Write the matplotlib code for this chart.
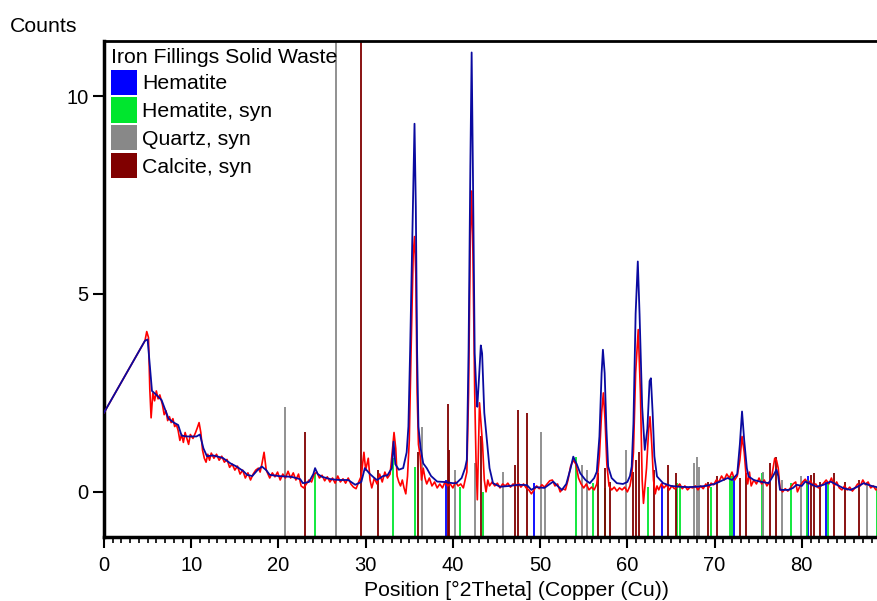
import numpy as np
import matplotlib
matplotlib.use('Agg')
import matplotlib.pyplot as plt
from matplotlib.patches import Patch
from matplotlib.ticker import MultipleLocator

plt.rcParams['font.family'] = ['Liberation Sans', 'DejaVu Sans']

observed = [
    (0.0, 2.0), (4.7, 3.82), (4.9, 4.05), (5.1, 3.9), (5.25, 2.6), (5.4, 1.87), (5.6, 2.5), (5.8, 2.3),
    (6.0, 2.55), (6.2, 2.35), (6.4, 2.45), (6.7, 2.2), (6.9, 1.95), (7.1, 2.05), (7.3, 1.8), (7.5, 1.9),
    (7.7, 1.75), (7.9, 1.85), (8.1, 1.65), (8.3, 1.7), (8.5, 1.55), (8.7, 1.3), (8.9, 1.45), (9.1, 1.25),
    (9.3, 1.5), (9.5, 1.35), (9.7, 1.2), (9.9, 1.45), (10.2, 1.35), (10.5, 1.5), (10.7, 1.62), (10.9, 1.75),
    (11.1, 1.5), (11.3, 1.05), (11.5, 0.85), (11.7, 0.75), (11.9, 0.95), (12.1, 0.8), (12.3, 0.98), (12.6, 0.85),
    (12.9, 0.95), (13.2, 0.8), (13.5, 0.9), (13.8, 0.75), (14.1, 0.82), (14.4, 0.62), (14.7, 0.7), (15.0, 0.55),
    (15.3, 0.65), (15.6, 0.45), (15.9, 0.55), (16.2, 0.35), (16.5, 0.48), (16.8, 0.3), (17.1, 0.45), (17.4, 0.55),
    (17.7, 0.6), (17.9, 0.5), (18.1, 0.7), (18.35, 1.0), (18.6, 0.55), (18.8, 0.45), (19.0, 0.35), (19.3, 0.48),
    (19.6, 0.38), (19.9, 0.5), (20.2, 0.3), (20.5, 0.45), (20.8, 0.35), (21.1, 0.52), (21.4, 0.35), (21.7, 0.48),
    (22.0, 0.3), (22.3, 0.45), (22.6, 0.15), (22.9, 0.1), (23.2, 0.2), (23.5, 0.3), (23.8, 0.25), (24.1, 0.45),
    (24.4, 0.5), (24.7, 0.35), (25.0, 0.42), (25.3, 0.28), (25.6, 0.38), (25.9, 0.25), (26.2, 0.35), (26.5, 0.22),
    (26.8, 0.4), (27.1, 0.25), (27.4, 0.33), (27.7, 0.22), (28.0, 0.35), (28.3, 0.2), (28.6, 0.12), (28.9, 0.08),
    (29.2, 0.25), (29.5, 0.4), (29.8, 1.0), (30.0, 0.55), (30.3, 0.85), (30.5, 0.3), (30.7, 0.1), (31.0, 0.35),
    (31.3, 0.2), (31.6, 0.45), (31.9, 0.25), (32.2, 0.5), (32.5, 0.35), (32.8, 0.45), (33.0, 0.9), (33.25, 1.5),
    (33.45, 1.1), (33.6, 0.4), (33.8, 0.25), (34.0, 0.15), (34.2, 0.3), (34.4, 0.1), (34.6, -0.05), (34.8, 0.4),
    (35.0, 1.3), (35.2, 3.5), (35.45, 6.0), (35.6, 6.45), (35.75, 5.5), (35.9, 2.5), (36.05, 1.2), (36.25, 0.9),
    (36.4, 0.3), (36.6, 0.6), (36.8, 0.35), (37.0, 0.2), (37.3, 0.35), (37.6, 0.15), (37.9, 0.25), (38.2, 0.1),
    (38.5, 0.2), (38.8, 0.1), (39.1, 0.25), (39.4, 0.15), (39.7, 0.2), (40.0, 0.1), (40.3, 0.25), (40.6, 0.15),
    (40.9, 0.2), (41.2, 0.1), (41.4, 0.3), (41.6, 0.5), (41.8, 2.5), (42.0, 6.5), (42.15, 7.6), (42.3, 6.0),
    (42.5, 2.5), (42.65, 0.8), (42.8, -0.2), (42.95, 1.2), (43.05, 2.25), (43.2, 1.8), (43.4, 1.2), (43.6, 0.3),
    (43.8, 0.0), (44.0, 0.3), (44.2, 0.15), (44.5, 0.25), (44.8, 0.15), (45.1, 0.22), (45.4, 0.1), (45.7, 0.2),
    (46.0, 0.15), (46.3, 0.22), (46.6, 0.12), (46.9, 0.2), (47.2, 0.15), (47.5, 0.22), (47.8, 0.12), (48.1, 0.2),
    (48.4, 0.1), (48.7, 0.05), (49.0, -0.05), (49.3, 0.05), (49.6, 0.15), (49.9, 0.08), (50.2, 0.18), (50.5, 0.12),
    (50.8, 0.2), (51.1, 0.28), (51.4, 0.3), (51.7, 0.15), (52.0, 0.2), (52.3, 0.0), (52.6, 0.08), (52.9, 0.05),
    (53.2, 0.3), (53.5, 0.65), (53.8, 0.8), (54.1, 0.7), (54.4, 0.35), (54.7, 0.2), (55.0, 0.1), (55.3, 0.2),
    (55.6, 0.05), (55.9, 0.12), (56.2, 0.05), (56.5, 0.2), (56.8, 0.9), (57.05, 2.0), (57.25, 2.5), (57.45, 1.8),
    (57.65, 0.7), (57.9, 0.15), (58.2, 0.05), (58.5, 0.12), (58.8, 0.02), (59.1, 0.1), (59.4, 0.05), (59.7, 0.12),
    (60.0, 0.0), (60.3, 0.15), (60.5, 0.4), (60.7, 1.0), (60.95, 3.0), (61.25, 4.1), (61.5, 2.5), (61.7, 0.3),
    (61.85, -0.29), (62.0, 0.1), (62.2, 0.6), (62.45, 1.6), (62.6, 1.9), (62.8, 1.2), (63.0, 0.3), (63.2, -0.05),
    (63.4, 0.15), (63.6, 0.05), (63.9, 0.2), (64.2, 0.1), (64.5, 0.18), (64.8, 0.05), (65.1, 0.15), (65.4, 0.08),
    (65.7, 0.12), (66.0, 0.2), (66.3, 0.08), (66.6, 0.15), (66.9, 0.05), (67.2, 0.12), (67.5, 0.1), (67.8, 0.15),
    (68.1, 0.05), (68.4, 0.15), (68.7, 0.08), (69.0, 0.2), (69.3, 0.1), (69.6, 0.22), (69.9, 0.18), (70.2, 0.3),
    (70.5, 0.25), (70.8, 0.4), (71.1, 0.3), (71.4, 0.45), (71.7, 0.35), (72.0, 0.5), (72.3, 0.3), (72.6, 0.4),
    (72.9, 0.8), (73.15, 1.4), (73.4, 1.0), (73.6, 0.45), (73.8, 0.2), (74.0, 0.5), (74.2, 0.15), (74.5, 0.3),
    (74.8, 0.2), (75.1, 0.35), (75.4, 0.2), (75.7, 0.3), (76.0, 0.15), (76.3, 0.25), (76.6, 0.45), (76.9, 0.85),
    (77.1, 0.8), (77.3, 0.6), (77.5, 0.1), (77.8, 0.0), (78.1, 0.08), (78.4, 0.02), (78.7, 0.1), (79.0, 0.2),
    (79.3, 0.25), (79.5, 0.0), (79.8, 0.15), (80.1, 0.25), (80.4, 0.32), (80.7, 0.2), (81.0, 0.28), (81.3, 0.15),
    (81.6, 0.2), (81.9, 0.1), (82.2, 0.15), (82.5, 0.22), (82.8, 0.3), (83.1, 0.2), (83.4, 0.35), (83.7, 0.15),
    (84.0, 0.25), (84.3, 0.1), (84.6, 0.05), (84.9, 0.15), (85.2, 0.05), (85.5, 0.12), (85.8, 0.02), (86.1, 0.1),
    (86.4, 0.2), (86.7, 0.15), (87.0, 0.3), (87.3, 0.18), (87.6, 0.25), (87.9, 0.1), (88.2, 0.15), (88.5, 0.05),
    (88.8, 0.1), (89.2, 0.18),
]

# calculated profile (dark blue)
calculated = [
    (0.0, 2.0), (4.7, 3.82), (5.0, 3.85), (5.3, 3.08), (5.5, 2.55), (6.0, 2.45), (6.6, 2.32), (7.4, 1.85),
    (8.0, 1.75), (8.5, 1.69), (8.9, 1.42), (9.5, 1.4), (10.6, 1.4), (11.0, 1.45), (11.4, 1.1), (11.8, 0.9),
    (12.5, 0.92), (13.6, 0.86), (14.5, 0.72), (15.2, 0.64), (16.0, 0.52), (16.4, 0.43), (17.0, 0.4), (17.6, 0.55),
    (18.1, 0.64), (18.6, 0.55), (19.0, 0.43), (20.0, 0.4), (21.5, 0.38), (22.5, 0.32), (22.8, 0.22), (23.5, 0.25),
    (24.0, 0.45), (24.2, 0.6), (24.5, 0.45), (25.0, 0.38), (26.0, 0.32), (27.0, 0.3), (28.0, 0.3), (28.8, 0.18),
    (29.5, 0.25), (29.9, 0.6), (30.5, 0.45), (31.0, 0.35), (31.3, 0.3), (32.0, 0.4), (32.5, 0.42), (33.0, 0.6),
    (33.2, 1.27), (33.4, 0.7), (33.8, 0.56), (34.3, 0.6), (34.7, 1.0), (34.9, 1.65), (35.1, 3.6), (35.4, 7.1),
    (35.6, 9.3), (35.75, 7.2), (35.9, 3.5), (36.05, 1.65), (36.3, 1.1), (36.6, 0.72), (37.0, 0.6), (37.5, 0.4),
    (38.2, 0.26), (39.0, 0.25), (40.0, 0.22), (40.4, 0.22), (41.0, 0.35), (41.4, 0.6), (41.6, 0.81), (41.8, 3.6),
    (42.0, 8.2), (42.15, 11.1), (42.3, 8.0), (42.5, 3.5), (42.7, 2.5), (42.8, 2.15), (43.0, 2.9), (43.2, 3.7),
    (43.35, 3.5), (43.6, 2.0), (43.9, 1.31), (44.2, 0.6), (44.6, 0.22), (45.4, 0.13), (46.5, 0.15), (47.5, 0.18),
    (48.5, 0.17), (49.0, 0.05), (49.5, 0.12), (50.5, 0.1), (51.0, 0.18), (51.5, 0.26), (52.0, 0.15), (52.5, 0.05),
    (53.0, 0.2), (53.5, 0.6), (53.8, 0.89), (54.2, 0.7), (54.6, 0.47), (55.2, 0.3), (55.7, 0.22), (56.2, 0.35),
    (56.5, 0.51), (56.8, 1.4), (57.05, 3.0), (57.2, 3.59), (57.4, 3.0), (57.6, 1.6), (57.8, 0.64), (58.2, 0.35),
    (58.8, 0.22), (59.5, 0.2), (60.0, 0.25), (60.3, 0.4), (60.5, 0.64), (60.7, 1.73), (60.95, 4.5), (61.2, 5.82),
    (61.4, 4.5), (61.7, 2.15), (62.0, 1.06), (62.3, 1.6), (62.55, 2.8), (62.7, 2.87), (62.9, 2.0), (63.1, 0.9),
    (63.4, 0.39), (64.1, 0.22), (65.0, 0.15), (66.0, 0.13), (67.0, 0.12), (68.0, 0.13), (69.0, 0.15), (70.0, 0.2),
    (70.8, 0.28), (71.5, 0.35), (72.0, 0.3), (72.6, 0.45), (72.9, 1.2), (73.15, 2.03), (73.4, 1.3), (73.7, 0.6),
    (73.9, 0.39), (74.5, 0.3), (75.2, 0.26), (76.2, 0.22), (76.7, 0.4), (77.1, 0.56), (77.3, 0.4), (77.5, 0.05),
    (78.5, 0.05), (79.0, 0.1), (79.4, 0.18), (80.0, 0.15), (80.4, 0.26), (81.0, 0.2), (81.7, 0.13), (82.5, 0.18),
    (83.3, 0.26), (84.0, 0.18), (84.8, 0.09), (85.6, 0.05), (86.3, 0.12), (87.1, 0.22), (88.0, 0.15), (89.2, 0.09),
]

# reference stick patterns: positions and top of each stick
hematite_pos = [39.2, 49.35, 64.0, 72.2, 80.7, 82.8]
hematite_top = [0.3, 0.23, 0.22, 0.39, 0.39, 0.26]
hematite_syn_pos = [24.2, 33.1, 35.6, 40.8, 43.5, 54.1, 56.1, 57.45, 62.4, 65.75, 66.0, 69.6,
                    71.8, 72.0, 75.4, 75.6, 78.75, 80.6, 83.0, 88.6]
hematite_syn_top = [0.47, 0.85, 0.64, 0.13, 0.0, 0.89, 0.22, 0.1, 0.13, 0.22, 0.2, 0.13,
                    0.39, 0.39, 0.47, 0.47, 0.22, 0.3, 0.26, 0.13]
quartz_pos = [20.8, 26.65, 36.5, 40.25, 42.5, 45.8, 50.1, 50.6, 54.8, 55.35, 59.9, 67.7, 68.0,
              68.2, 75.5, 77.7, 79.9, 87.5]
quartz_top = [2.15, 12.0, 1.65, 0.56, 0.73, 0.51, 1.52, 0.13, 0.68, 0.56, 1.06, 0.72, 0.89,
              0.64, 0.51, 0.3, 0.39, 0.26]
calcite_pos = [23.1, 29.45, 31.4, 36.0, 39.4, 39.6, 43.2, 47.1, 47.5, 48.5, 56.6, 57.4, 58.0,
               60.7, 61.0, 61.35, 63.1, 64.7, 65.6, 69.2, 70.3, 72.9, 73.6, 76.4, 77.1, 81.0,
               81.4, 82.1, 83.7, 84.9, 86.6]
calcite_top = [1.52, 12.0, 0.56, 1.0, 2.21, 1.06, 1.4, 0.68, 2.07, 1.99, 0.47, 0.6, 0.26,
               0.51, 0.8, 1.0, 0.56, 0.68, 0.47, 0.26, 0.39, 0.34, 0.47, 0.72, 0.89, 0.43,
               0.47, 0.26, 0.47, 0.26, 0.3]

x_ticks = [0, 10, 20, 30, 40, 50, 60, 70, 80]
y_ticks = [0, 5, 10]

phases = ['Hematite', 'Hematite, syn', 'Quartz, syn', 'Calcite, syn']
phase_colors = ['#0000ff', '#00e62e', '#888888', '#800000']

ymin, ymax = -1.14, 11.39

fig = plt.figure(figsize=(8.78, 6.01), dpi=100)
# the plot area runs on past the right edge of the picture, as in the screenshot
ax = fig.add_axes([104/878, 64/601, 826/878, 496/601])

obs = np.array(observed)
calc = np.array(calculated)
ax.plot(obs[:, 0], obs[:, 1], color='#ff0000', lw=1.2, zorder=3)
ax.plot(calc[:, 0], calc[:, 1], color='#0a0aa0', lw=1.3, zorder=4)

sticks = [(hematite_pos, hematite_top), (hematite_syn_pos, hematite_syn_top),
          (quartz_pos, quartz_top), (calcite_pos, calcite_top)]
for (pos, top), c in zip(sticks, phase_colors):
    ax.vlines(pos, ymin, top, colors=c, lw=1.3, zorder=2)

ax.set_xlim(0, 94.7)
ax.set_ylim(ymin, ymax)

ax.set_xticks(x_ticks)
ax.xaxis.set_minor_locator(MultipleLocator(1))
ax.set_yticks(y_ticks)
ax.tick_params(axis='both', which='major', direction='out', length=8, width=1.5, labelsize=14.5)
ax.tick_params(axis='x', which='major', pad=6)
ax.tick_params(axis='y', which='major', pad=3)
ax.tick_params(axis='x', which='minor', direction='out', length=4, width=1.2)
ax.spines['right'].set_visible(False)
ax.spines['left'].set_linewidth(2.5)
ax.spines['bottom'].set_linewidth(2.5)
ax.spines['top'].set_linewidth(2)

ax.set_xlabel('Position [°2Theta] (Copper (Cu))', fontsize=15.3, labelpad=4)
fig.text(10/878, 1 - 27/601, 'Counts', fontsize=15.3, va='center', ha='left')

handles = [Patch(facecolor=c, edgecolor='none') for c in phase_colors]
leg = ax.legend(handles, phases, title='Iron Fillings Solid Waste', loc='upper left',
                frameon=False, fontsize=15.3, title_fontsize=15.3, alignment='left',
                handlelength=1.2, handleheight=1.45, handletextpad=0.25,
                labelspacing=0.12, borderaxespad=0.03, borderpad=0.3)

plt.savefig('out.png', dpi=100)
